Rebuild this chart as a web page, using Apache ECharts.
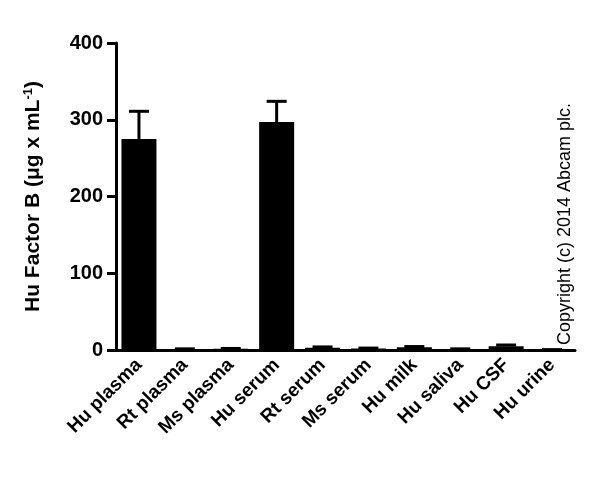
<!DOCTYPE html><html><head><meta charset="utf-8"><script src="https://cdn.jsdelivr.net/npm/echarts@6/dist/echarts.min.js"></script></head><body style="margin:0"><div id="c" style="width:600px;height:488px"></div><script>
const categories=['Hu plasma','Rt plasma','Ms plasma','Hu serum','Rt serum','Ms serum','Hu milk','Hu saliva','Hu CSF','Hu urine'];
const values=[275,1,1.5,297,3,2,3.5,1,5,0.5];
const errors=[36,0.5,0.5,27,1,0.5,1,0.5,1.5,0];
const yTicks=[0,100,200,300,400];
const ch=echarts.init(document.getElementById('c'));
const F='Liberation Sans, Arial, sans-serif';
ch.setOption({animation:false,
grid:{left:116,right:25,top:43,bottom:138},
xAxis:{type:'category',data:categories,axisLine:{lineStyle:{color:'#000',width:3}},axisTick:{alignWithLabel:true,length:9,lineStyle:{width:3,color:'#000'}},
axisLabel:{rotate:45,color:'#000',fontFamily:F,fontWeight:'bold',fontSize:19,margin:12,interval:0}},
yAxis:{type:'value',min:0,max:400,interval:100,splitLine:{show:false},axisLine:{show:true,lineStyle:{color:'#000',width:3}},axisTick:{show:true,length:9,lineStyle:{width:3,color:'#000'}},
axisLabel:{color:'#000',fontFamily:F,fontWeight:'bold',fontSize:20,margin:13,formatter:v=>yTicks.includes(v)?String(v):''},
name:'{a|Hu Factor B (μg x mL}{s|-1}{a|)}',nameLocation:'middle',nameGap:72,nameRotate:90,
nameTextStyle:{rich:{a:{fontFamily:F,fontWeight:'bold',fontSize:21,color:'#000'},s:{fontFamily:F,fontWeight:'bold',fontSize:13,color:'#000',verticalAlign:'top',padding:[0,0,9,0]}}}},
series:[{type:'bar',data:values,barWidth:35,itemStyle:{color:'#000'},z:2},
{type:'custom',data:values.map((v,i)=>[i,v,v+errors[i]]),z:3,renderItem:(p,api)=>{
const b=api.coord([api.value(0),api.value(1)]);const t=api.coord([api.value(0),api.value(2)]);
return {type:'group',children:[{type:'line',shape:{x1:b[0],y1:b[1],x2:t[0],y2:t[1]},style:{stroke:'#000',lineWidth:3}},
{type:'line',shape:{x1:t[0]-10,y1:t[1],x2:t[0]+10,y2:t[1]},style:{stroke:'#000',lineWidth:3}}]};}}],
graphic:[{type:'text',x:556,y:345,rotation:Math.PI/2,style:{text:'Copyright (c) 2014 Abcam plc.',fontFamily:F,fontSize:18,fill:'#000'}}]
});
</script></body></html>
